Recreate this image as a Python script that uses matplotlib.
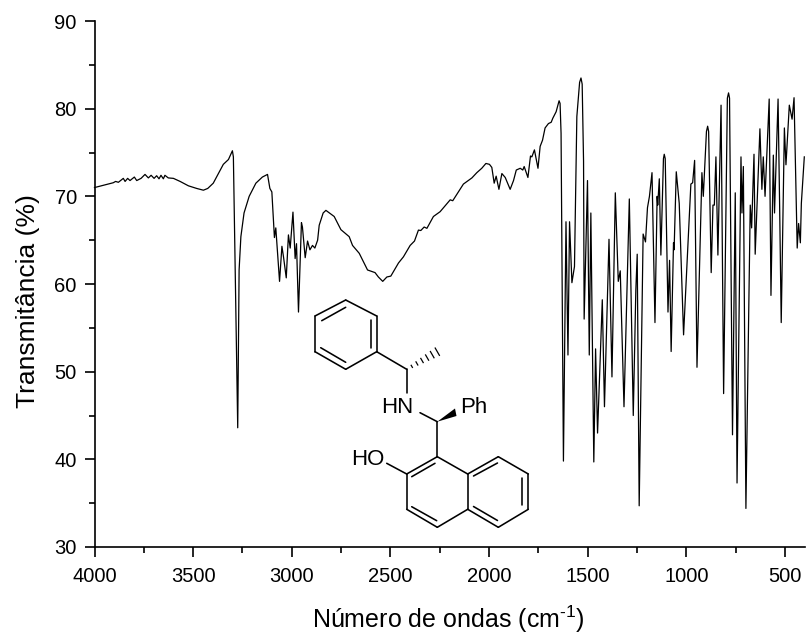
import matplotlib
matplotlib.use("Agg")
import matplotlib.pyplot as plt
from matplotlib.ticker import MultipleLocator
from matplotlib.patches import Polygon

plt.rcParams['font.family'] = ['Liberation Sans', 'DejaVu Sans']
plt.rcParams['mathtext.fontset'] = 'custom'
plt.rcParams['mathtext.rm'] = 'Liberation Sans'
plt.rcParams['mathtext.default'] = 'regular'

wavenumber = [
    4000, 3947, 3905, 3893, 3879, 3854, 3845, 3832, 3820, 3798, 3786, 3764, 3744, 3727, 3713, 3698,
    3685, 3673, 3663, 3651, 3643, 3626, 3600, 3566, 3524, 3482, 3448, 3426, 3398, 3372, 3347, 3321,
    3301, 3296, 3274, 3267, 3258, 3242, 3216, 3182, 3149, 3123, 3111, 3101, 3088, 3081, 3062, 3050,
    3042, 3028, 3017, 3008, 2994, 2983, 2976, 2966, 2951, 2946, 2932, 2920, 2908, 2895, 2883, 2869,
    2861, 2841, 2827, 2785, 2751, 2709, 2692, 2658, 2616, 2603, 2578, 2561, 2539, 2518, 2498, 2459,
    2434, 2400, 2378, 2358, 2346, 2329, 2315, 2282, 2248, 2197, 2184, 2130, 2087, 2062, 2037, 2016,
    1998, 1986, 1974, 1964, 1950, 1935, 1918, 1893, 1876, 1862, 1842, 1829, 1822, 1803, 1790, 1783,
    1770, 1752, 1741, 1729, 1716, 1699, 1685, 1677, 1660, 1645, 1640, 1635,
    1623, 1610, 1600, 1592, 1580, 1567, 1555, 1541, 1534, 1528, 1524, 1521, 1518, 1501, 1492, 1484, 1469,
    1460, 1450, 1426, 1415, 1392, 1377, 1360, 1345, 1335, 1316, 1289, 1269, 1256, 1249, 1239,
    1219, 1207, 1197, 1187, 1174, 1159, 1148, 1145, 1137, 1129, 1116, 1112, 1107, 1093, 1085, 1077, 1065,
    1062, 1051, 1036, 1014, 1002, 977, 968, 958, 946, 921, 914, 898, 892, 887, 874, 865, 858, 850,
    840, 824, 811, 792, 786, 781, 766, 752, 743, 723, 718, 711, 698, 676, 669, 657, 651, 627,
    617, 610, 601, 580, 571, 559, 553, 535, 527, 519, 503, 495, 478, 464, 454, 438, 431, 422, 417, 402,
]
transmittance = [
    71.0, 71.3, 71.55, 71.7, 71.6, 72.05, 71.7, 72.05, 71.8, 72.2, 71.8, 72.05, 72.5, 72.1, 72.4, 72.05,
    72.35, 72.0, 72.4, 72.0, 72.4, 72.1, 72.05, 71.7, 71.2, 70.9, 70.7, 70.9, 71.5, 72.6, 73.65, 74.2,
    75.2, 74.5, 43.6, 61.6, 65.4, 68.1, 70.0, 71.5, 72.2, 72.5, 70.9, 70.5, 65.3, 66.4, 60.3, 64.3,
    63.1, 60.7, 65.6, 64.1, 68.2, 62.9, 64.6, 56.8, 67.0, 66.5, 63.0, 64.9, 63.9, 64.4, 64.1, 65.0,
    66.7, 68.1, 68.4, 67.7, 66.2, 65.4, 64.4, 63.5, 61.6, 61.5, 61.3, 60.8, 60.3, 60.8, 60.9, 62.4,
    63.1, 64.4, 64.9, 66.15, 66.1, 66.5, 66.35, 67.7, 68.25, 69.6, 69.5, 71.4, 72.1, 72.7, 73.2, 73.75,
    73.65, 73.3, 71.5, 72.3, 70.8, 72.6, 72.15, 70.8, 71.8, 73.0, 73.2, 73.0, 73.4, 72.15, 74.6, 74.5,
    75.3, 73.2, 75.7, 76.4, 77.8, 78.3, 78.45, 78.9, 79.65, 80.9, 80.6, 77.2,
    39.8, 67.1, 51.9, 67.1, 60.15, 62.0, 79.1, 83.0, 83.5, 82.8, 78.0, 74.0, 56.0, 71.8, 51.9, 68.1, 39.7,
    52.6, 43.0, 58.2, 46.0, 65.1, 49.4, 70.4, 60.3, 61.5, 46.0, 69.7, 45.0, 59.3, 63.4, 34.7,
    65.7, 64.8, 68.7, 70.0, 72.7, 55.6, 70.0, 69.0, 72.0, 63.3, 74.3, 74.8, 74.3, 56.8, 62.7, 52.3, 64.7,
    63.9, 72.8, 69.2, 54.2, 59.7, 71.4, 71.55, 74.1, 50.5, 72.7, 70.0, 77.4, 78.0, 77.4, 61.3, 69.0, 69.0, 74.5,
    63.3, 80.4, 47.5, 81.2, 81.8, 81.2, 42.8, 70.4, 37.3, 74.5, 68.1, 73.4, 34.4, 69.0, 66.4, 74.8, 63.4, 77.7,
    70.8, 74.5, 70.0, 81.1, 58.7, 74.7, 68.1, 81.1, 68.8, 55.6, 77.8, 73.6, 80.4, 78.8, 81.25, 64.1, 66.9, 64.7, 69.2, 74.5,
]
x_ticks = [4000, 3500, 3000, 2500, 2000, 1500, 1000, 500]
y_ticks = [30, 40, 50, 60, 70, 80, 90]
x_label = 'Número de ondas (cm$^{\u20101}$)'
y_label = 'Transmitância (%)'

W, H = 807, 642
fig = plt.figure(figsize=(W / 100, H / 100), dpi=100, facecolor='white')
ax = fig.add_axes([94.5 / W, 1 - 547 / H, (804.7 - 94.5) / W, (547 - 21) / H])
ax.plot(wavenumber, transmittance, color='black', lw=0.9, solid_joinstyle='round', clip_on=False)
ax.set_xlim(4000, 400)
ax.set_ylim(30, 90)
ax.set_xticks(x_ticks)
ax.set_yticks(y_ticks)
ax.xaxis.set_minor_locator(MultipleLocator(250))
ax.yaxis.set_minor_locator(MultipleLocator(5))
ax.spines['top'].set_visible(False)
ax.spines['right'].set_visible(False)
for s in ('left', 'bottom'):
    ax.spines[s].set_linewidth(1.2)
ax.tick_params(which='major', direction='out', length=7.2, width=1.2, labelsize=14.5)
ax.tick_params(axis='x', which='major', pad=7.5)
ax.tick_params(axis='y', which='major', pad=5.5)
ax.tick_params(which='minor', direction='out', length=4, width=1.2)
ax.set_xlabel(x_label, fontsize=18, va='baseline')
ax.set_ylabel(y_label, fontsize=19, va='baseline')
ax.xaxis.set_label_coords(0.4977, -0.154)
ax.yaxis.set_label_coords(-0.0838, 0.4677)

# structure drawn in picture pixels on a transparent overlay
ov = fig.add_axes([0, 0, 1, 1], facecolor='none')
ov.set_xlim(0, W)
ov.set_ylim(H, 0)
ov.axis('off')
bonds = [
    ((345.7, 300), (376.7, 316)), ((376.7, 316), (376.7, 351.7)), ((376.7, 351.7), (345.7, 369.3)),
    ((345.7, 369.3), (315, 351.7)), ((315, 351.7), (315, 316)), ((315, 316), (345.7, 300)),
    ((321.7, 320.7), (345.7, 307.3)), ((370.7, 320), (370.7, 347.7)), ((320.7, 347.7), (345.7, 362.3)),
    ((376.7, 351.7), (406.7, 369.3)), ((406.7, 369.3), (406.7, 393.3)),
    ((420, 412.7), (437.3, 421.7)), ((437.3, 421.7), (437.3, 456.7)),
    ((437.3, 456.7), (406.7, 474)), ((406.7, 474), (406.7, 509.3)), ((406.7, 509.3), (437.3, 527.3)),
    ((437.3, 527.3), (467.7, 509.3)), ((467.7, 509.3), (467.7, 474)), ((467.7, 474), (437.3, 456.7)),
    ((467.7, 474), (498.3, 456.7)), ((498.3, 456.7), (528.3, 474)), ((528.3, 474), (528.3, 509.3)),
    ((528.3, 509.3), (498.3, 527.3)), ((498.3, 527.3), (467.7, 509.3)),
    ((435, 463.3), (411.7, 476.7)), ((411.7, 506.7), (436.7, 520.7)),
    ((473.5, 476), (497.5, 463)), ((522.3, 478.3), (522.3, 505)), ((473.5, 506.5), (497.5, 520.5)),
    ((406.7, 474), (386.7, 463.3)),
]
for (x0, y0), (x1, y1) in bonds:
    ov.plot([x0, x1], [y0, y1], color='black', lw=1.15, solid_capstyle='round')
ov.add_patch(Polygon([(437.3, 421.7), (455, 408.5), (456.5, 416)], closed=True, color='black', lw=0))
# hashed bond
n = 6
for i in range(1, n + 1):
    t = i / n
    cx, cy = 406.7 + t * 30.6, 369.3 - t * 17.6
    half = 0.6 + 3.6 * t
    ov.plot([cx - half * 0.5, cx + half * 0.5], [cy - half * 0.87, cy + half * 0.87], color='black', lw=0.9)
ov.text(397.5, 413, 'HN', fontsize=16, ha='center', va='baseline')
ov.text(474, 413, 'Ph', fontsize=16, ha='center', va='baseline')
ov.text(368, 465, 'HO', fontsize=16, ha='center', va='baseline')

fig.savefig('out.png', dpi=100)
